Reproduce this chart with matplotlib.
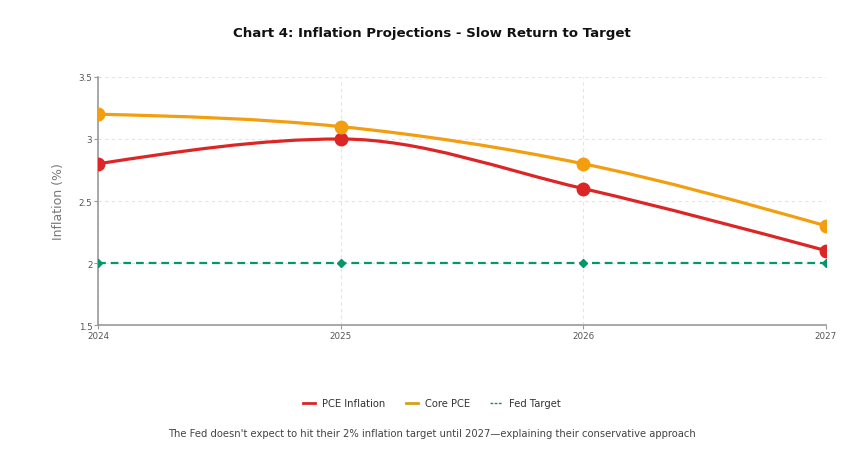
import matplotlib.pyplot as plt
from matplotlib.path import Path
from matplotlib.patches import PathPatch
from matplotlib.lines import Line2D
import numpy as np

years = [2024, 2025, 2026, 2027]
pce = [2.8, 3.0, 2.6, 2.1]
core_pce = [3.2, 3.1, 2.8, 2.3]
fed_target = [2.0, 2.0, 2.0, 2.0]

y_ticks = [1.5, 2, 2.5, 3, 3.5]
y_labels = ['1.5', '2', '2.5', '3', '3.5']


def monotone_path(x, y):
    # monotone-x cubic, same as d3 curveMonotoneX
    x = np.asarray(x, float)
    y = np.asarray(y, float)
    n = len(x)
    h = np.diff(x)
    s = np.diff(y) / h
    t = np.zeros(n)
    for i in range(1, n - 1):
        p = (s[i - 1] * h[i] + s[i] * h[i - 1]) / (h[i - 1] + h[i])
        t[i] = (np.sign(s[i - 1]) + np.sign(s[i])) * min(abs(s[i - 1]), abs(s[i]), 0.5 * abs(p))
    t[0] = (3 * s[0] - t[1]) / 2
    t[-1] = (3 * s[-1] - t[-2]) / 2
    verts = [(x[0], y[0])]
    codes = [Path.MOVETO]
    for i in range(n - 1):
        dx = (x[i + 1] - x[i]) / 3
        verts += [(x[i] + dx, y[i] + dx * t[i]),
                  (x[i + 1] - dx, y[i + 1] - dx * t[i + 1]),
                  (x[i + 1], y[i + 1])]
        codes += [Path.CURVE4] * 3
    return Path(verts, codes)


red = '#dc2626'
amber = '#f29e0f'
green = '#059669'
axis_gray = '#9a9a9a'

fig = plt.figure(figsize=(8.64, 4.56), dpi=100)
ax = fig.add_axes([0.1134, 0.285, 0.8426, 0.544])

ax.add_patch(PathPatch(monotone_path(years, pce), fill=False, edgecolor=red, lw=2.3, zorder=3))
ax.add_patch(PathPatch(monotone_path(years, core_pce), fill=False, edgecolor=amber, lw=2.3, zorder=3))
ax.plot(years, fed_target, color=green, lw=1.6, ls=(0, (3.5, 2.2)), marker='D', ms=4.2, zorder=3)
ax.plot(years, pce, ls='none', marker='o', ms=9, color=red, zorder=4)
ax.plot(years, core_pce, ls='none', marker='o', ms=9, color=amber, zorder=4)

ax.set_xlim(2024, 2027)
ax.set_ylim(1.5, 3.5)
ax.set_xticks(years)
ax.set_xticklabels([str(y) for y in years])
ax.set_yticks(y_ticks)
ax.set_yticklabels(y_labels)
ax.tick_params(axis='both', labelsize=6.3, colors='#555555', length=3, width=0.8, pad=1)
ax.tick_params(axis='both', color=axis_gray)
ax.grid(True, color='#e4e4e4', ls=(0, (3, 3)), lw=0.8)
ax.set_axisbelow(True)
for side in ['top', 'right']:
    ax.spines[side].set_visible(False)
for side in ['left', 'bottom']:
    ax.spines[side].set_color(axis_gray)
    ax.spines[side].set_linewidth(1.2)
ax.set_ylabel('Inflation (%)', fontsize=9, color='#777777', labelpad=10)

fig.text(0.5, 0.927, 'Chart 4: Inflation Projections - Slow Return to Target',
         ha='center', va='center', fontsize=9.6, fontweight='bold', color='#111111')

handles = [Line2D([], [], color=red, lw=2),
           Line2D([], [], color='#d4a017', lw=2),
           Line2D([], [], color=green, lw=1, ls=(0, (2, 1)))]
fig.legend(handles, ['PCE Inflation', 'Core PCE', 'Fed Target'], loc='center',
           bbox_to_anchor=(0.5, 0.114), ncol=3, frameon=False, fontsize=7.2,
           handlelength=1.2, handletextpad=0.7, columnspacing=2.0)
for txt in fig.legends[0].get_texts():
    txt.set_color('#333333')

fig.text(0.5, 0.048, "The Fed doesn't expect to hit their 2% inflation target until 2027\u2014explaining their conservative approach",
         ha='center', va='center', fontsize=7.2, color='#444444')

fig.savefig('out.png', dpi=100)
